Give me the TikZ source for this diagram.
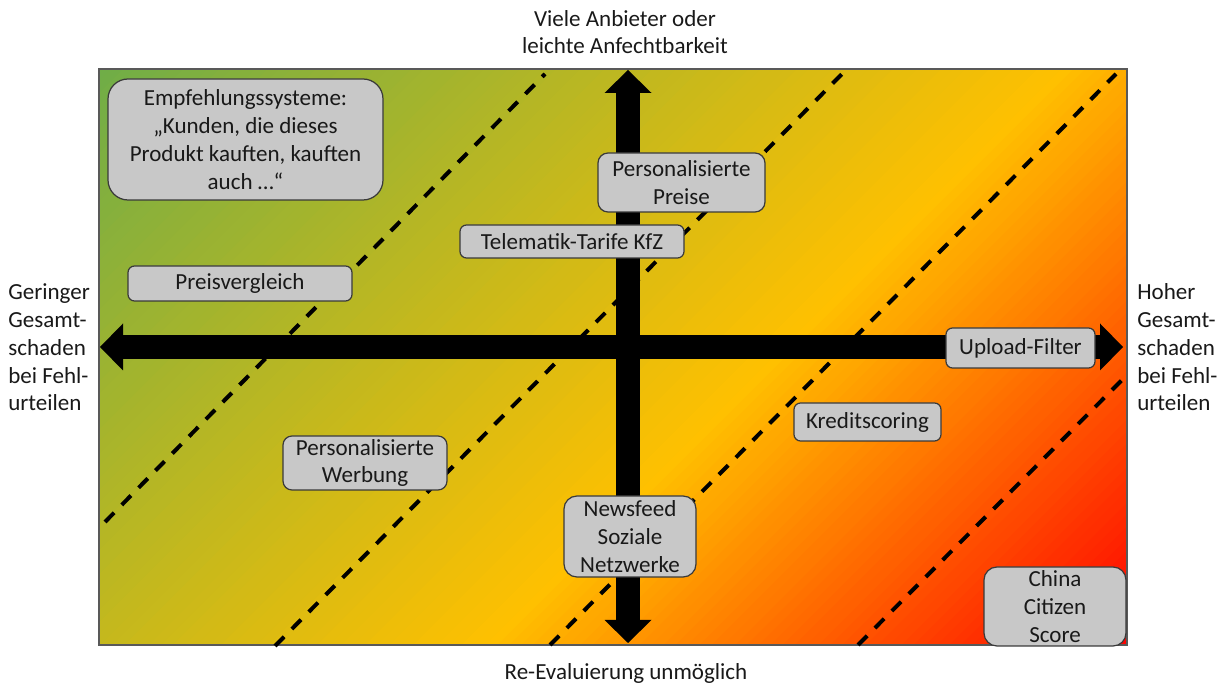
\documentclass[tikz,border=0pt]{standalone}
\usepackage{fontspec}
\setmainfont{Carlito}
\usetikzlibrary{arrows.meta}
\definecolor{lowgreen}{HTML}{70AD47}
\definecolor{midgold}{HTML}{FFC000}
\definecolor{highred}{HTML}{FF0000}
\definecolor{boxgray}{HTML}{C8C8C8}
\definecolor{boxedge}{HTML}{3A3A3A}
\tikzset{
  >=latex,
}
\tikzstyle{axes}=[line width=0.48cm,{Triangle[width=0.94cm,length=0.46cm,line width=0pt]}-{Triangle[width=0.94cm,length=0.46cm,line width=0pt]}]
\tikzstyle{limit}=[line width=0.08cm,dash pattern=on 0.26cm off 0.22cm]
\tikzstyle{frame}=[line width=0.7pt,black!65]
\tikzstyle{case}=[draw=boxedge,fill=boxgray,line width=0.7pt,align=center,inner sep=0pt,text=black!90,rounded corners=0.13cm]
\tikzstyle{side}=[align=left,inner sep=0pt,anchor=west,text=black!90]
\tikzstyle{every node}=[font=\fontsize{13.1}{15.8}\selectfont]

\begin{document}
\begin{tikzpicture}
    \useasboundingbox (0,0) rectangle (24.5,13.66);
    \coordinate (sw) at (1.98,0.76);
    \coordinate (ne) at (22.54,12.28);

    % gradient green -> gold -> red
    \begin{scope}
      \clip (sw) rectangle (ne);
      \foreach \i in {0,...,79}{
        \pgfmathsetmacro\ta{-10.30+\i*0.2406}
        \pgfmathtruncatemacro\p{(\i+0.5)*100/80}
        \fill[midgold!\p!lowgreen] (\ta-1,-1)--(\ta-0.73,-1)--(\ta+15.27,15)--(\ta+15,15)--cycle;
      }
      \foreach \i in {0,...,53}{
        \pgfmathsetmacro\ta{8.948+\i*0.2378}
        \pgfmathtruncatemacro\p{(\i+0.5)*100/54}
        \fill[highred!\p!midgold] (\ta-1,-1)--(\ta-0.73,-1)--(\ta+15.27,15)--(\ta+15,15)--cycle;
      }
    \end{scope}
    \draw[frame] (sw) rectangle (ne);

    \draw[limit] (2.10,3.22)--(10.90,12.18);
    \draw[limit] (5.50,0.74)--(16.84,12.18);
    \draw[limit] (11.00,0.76)--(22.32,12.18);
    \draw[limit] (17.16,0.76)--(22.44,6.06);

    \coordinate (west) at (2.00,6.72);
    \coordinate (east) at (22.46,6.72);
    \coordinate (north) at (12.56,12.26);
    \coordinate (south) at (12.56,0.80);
    \draw[axes] (west)--(east);
    \draw[axes] (south)--(north);

    \node[case,rounded corners=0.4cm,minimum width=5.50cm,minimum height=2.42cm] (empf) at (4.91,10.87)
      {Empfehlungssysteme:\\„Kunden, die dieses\\Produkt kauften, kauften\\auch …“};
    \node[case,rounded corners=0.2cm,minimum width=3.34cm,minimum height=1.18cm] (preise) at (13.63,10.01)
      {Personalisierte\\Preise};
    \node[case,minimum width=4.48cm,minimum height=0.66cm] (telematik) at (11.44,8.83) {Telematik-Tarife KfZ};
    \node[case,minimum width=4.48cm,minimum height=0.70cm] (vergleich) at (4.80,7.99) {Preisvergleich};
    \node[case,minimum width=2.98cm,minimum height=0.80cm] (upload) at (20.41,6.70) {Upload-Filter};
    \node[case,minimum width=2.94cm,minimum height=0.76cm] (kredit) at (17.35,5.22) {Kreditscoring};
    \node[case,rounded corners=0.18cm,minimum width=3.28cm,minimum height=1.08cm] (werbung) at (7.30,4.40)
      {Personalisierte\\Werbung};
    \node[case,rounded corners=0.26cm,minimum width=2.64cm,minimum height=1.62cm] (newsfeed) at (12.60,2.93)
      {Newsfeed\\Soziale\\Netzwerke};
    \node[case,rounded corners=0.26cm,minimum width=2.84cm,minimum height=1.58cm] (china) at (21.10,1.53)
      {China\\Citizen\\Score};

    \node[align=center,text=black!90] (anbieter) at (12.50,13.02) {Viele Anbieter oder\\leichte Anfechtbarkeit};
    \node[text=black!90] (reval) at (12.52,0.20) {Re-Evaluierung unmöglich};
    \node[side] (gering) at (0.16,6.71) {Geringer\\Gesamt-\\schaden\\bei Fehl-\\urteilen};
    \node[side] (hoch) at (22.74,6.71) {Hoher\\Gesamt-\\schaden\\bei Fehl-\\urteilen};
\end{tikzpicture}
\end{document}
